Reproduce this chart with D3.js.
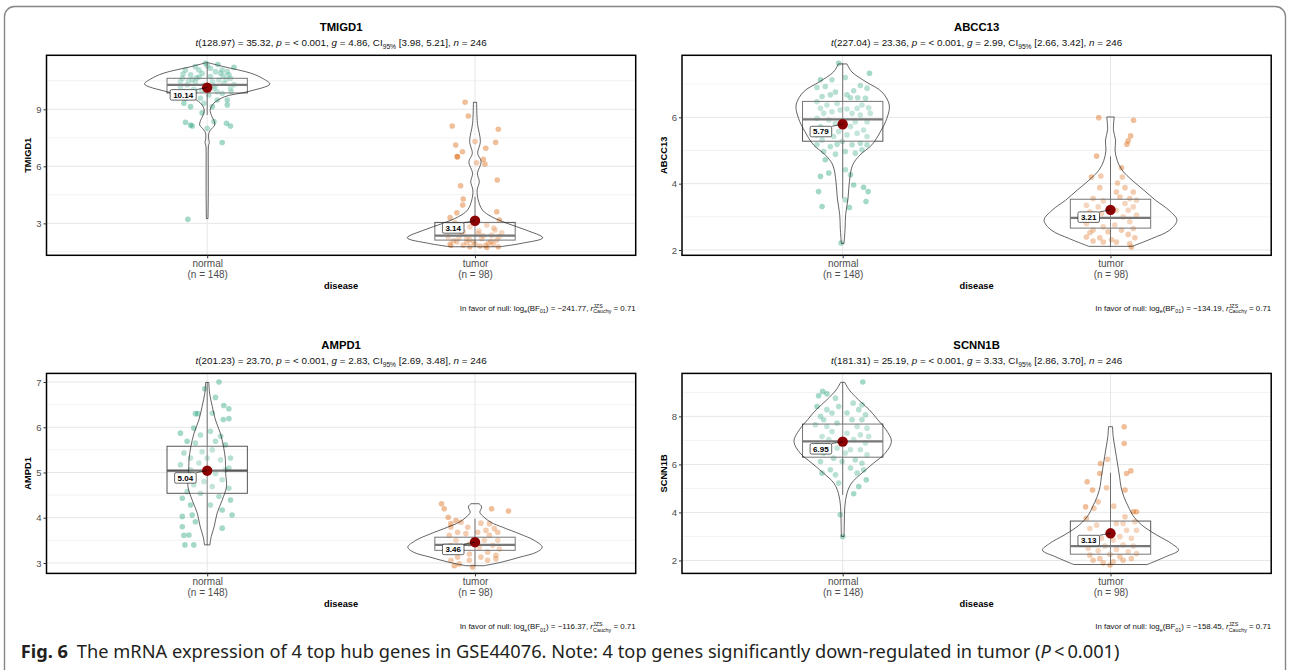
<!DOCTYPE html>
<html>
<head>
<meta charset="utf-8">
<script src="https://cdn.jsdelivr.net/npm/d3@7"></script>
<style>
  body { margin: 0; background: #fff; }
  svg { display: block; }
</style>
</head>
<body>
<div id="chart"></div>
<script>
// ---- data ----
const genes = ["TMIGD1", "ABCC13", "AMPD1", "SCNN1B"];
const groups = ["normal", "tumor"];
const groupN = [148, 98];
const groupColors = ["#1B9E77", "#D95F02"];
const nTotal = 246;

const tDf = [128.97, 227.04, 201.23, 181.31];
const tValue = [35.32, 23.36, 23.70, 25.19];
const hedgesG = [4.86, 2.99, 2.83, 3.33];
const ciLow = [3.98, 2.66, 2.69, 2.86];
const ciHigh = [5.21, 3.42, 3.48, 3.70];
const logBF01 = [-241.77, -134.19, -116.37, -158.45];
const rCauchy = 0.71;

const yDomains = [[1.32, 11.84], [1.84, 7.87], [2.77, 7.19], [1.46, 9.79]];
const yTicks = [[3, 6, 9], [2, 4, 6], [3, 4, 5, 6, 7], [2, 4, 6, 8]];

const groupMeans = [[10.14, 3.14], [5.79, 3.21], [5.04, 3.46], [6.95, 3.13]];

// [lower whisker, q1, median, q3, upper whisker] for normal, tumor
const tmigd1Box = [[8.7, 9.86, 10.28, 10.63, 11.42], [1.77, 2.12, 2.35, 3.05, 4.4]];
const abcc13Box = [[3.56, 5.28, 5.94, 6.48, 7.62], [2.11, 2.66, 2.97, 3.53, 4.82]];
const ampd1Box = [[3.4, 4.54, 5.04, 5.58, 6.98], [2.94, 3.28, 3.40, 3.57, 3.98]];
const scnn1bBox = [[4.73, 6.30, 6.96, 7.68, 9.42], [1.83, 2.26, 2.60, 3.64, 5.65]];

// violin outlines: [value, half width in category units]
const tmigd1NormalViolin = [[3.25, 0.003], [4.5, 0.004], [6.0, 0.004], [6.8, 0.004], [7.1, 0.005], [7.25, 0.008], [7.4, 0.006], [7.6, 0.005], [7.82, 0.008], [8.0, 0.018], [8.17, 0.028], [8.4, 0.025], [8.61, 0.018], [8.96, 0.011], [9.31, 0.024], [9.66, 0.065], [9.93, 0.152], [10.33, 0.234], [10.6, 0.21], [10.89, 0.165], [11.24, 0.062], [11.45, 0.004]];
const tmigd1TumorViolin = [[1.77, 0.093], [1.95, 0.174], [2.24, 0.253], [2.65, 0.19], [3.0, 0.12], [3.35, 0.062], [3.7, 0.028], [4.23, 0.012], [4.75, 0.008], [5.19, 0.016], [5.63, 0.009], [6.24, 0.023], [6.68, 0.01], [7.3, 0.02], [8.26, 0.009], [9.37, 0.006]];
const abcc13NormalViolin = [[2.2, 0.005], [2.66, 0.009], [3.06, 0.011], [3.56, 0.02], [4.06, 0.025], [4.56, 0.037], [4.86, 0.064], [5.17, 0.109], [5.57, 0.141], [5.97, 0.165], [6.37, 0.174], [6.77, 0.146], [7.07, 0.087], [7.37, 0.034], [7.61, 0.016]];
const abcc13TumorViolin = [[2.11, 0.081], [2.34, 0.153], [2.6, 0.221], [2.9, 0.248], [3.2, 0.218], [3.5, 0.168], [3.8, 0.125], [4.1, 0.081], [4.4, 0.044], [4.7, 0.025], [5.01, 0.017], [5.31, 0.019], [5.61, 0.011], [6.01, 0.014]];
const ampd1NormalViolin = [[3.4, 0.01], [3.58, 0.015], [3.8, 0.026], [4.1, 0.037], [4.39, 0.056], [4.69, 0.072], [4.98, 0.069], [5.28, 0.068], [5.57, 0.061], [5.87, 0.049], [6.16, 0.031], [6.46, 0.019], [6.75, 0.009], [6.99, 0.006]];
const ampd1TumorViolin = [[2.94, 0.034], [3.02, 0.1], [3.13, 0.168], [3.24, 0.23], [3.35, 0.251], [3.5, 0.221], [3.64, 0.168], [3.79, 0.103], [3.9, 0.059], [4.01, 0.034], [4.12, 0.018], [4.24, 0.025], [4.31, 0.015]];
const scnn1bNormalViolin = [[3.0, 0.005], [3.55, 0.006], [4.25, 0.008], [4.8, 0.016], [5.22, 0.033], [5.64, 0.072], [6.05, 0.115], [6.47, 0.159], [6.96, 0.182], [7.44, 0.162], [7.86, 0.131], [8.28, 0.099], [8.69, 0.059], [9.11, 0.024], [9.42, 0.0075]];
const scnn1bTumorViolin = [[1.83, 0.137], [2.15, 0.205], [2.43, 0.254], [2.71, 0.227], [3.05, 0.174], [3.4, 0.125], [3.82, 0.087], [4.23, 0.067], [4.65, 0.05], [5.07, 0.039], [5.48, 0.034], [5.9, 0.028], [6.32, 0.022], [6.73, 0.016], [7.15, 0.01], [7.57, 0.0075]];

// jittered observations: [jitter in category units, value]
const tmigd1Normal = [[-0.006, 11.42], [0.1, 11.21], [0.075, 10.98], [-0.044, 11.24], [-0.081, 11.07], [0.031, 10.98], [0.056, 11.07], [-0.019, 10.89], [-0.062, 10.81], [0.012, 10.72], [0.087, 10.63], [-0.093, 10.63], [0.044, 10.54], [-0.044, 10.46], [0.062, 10.37], [-0.075, 10.28], [-0.012, 10.28], [0.025, 10.10], [0.087, 10.10], [-0.087, 9.93], [-0.044, 9.93], [0.056, 9.84], [0.006, 9.75], [-0.081, 9.58], [-0.025, 9.58], [0.037, 9.49], [0.075, 9.23], [-0.087, 9.32], [-0.019, 8.82], [-0.081, 8.31], [-0.056, 8.12], [-0.062, 8.17], [0.025, 8.35], [0.072, 8.26], [0.087, 8.12], [0, 8.0], [0.056, 7.25], [-0.072, 3.21], [-0.031, 11.07], [0.012, 11.16], [-0.056, 10.54], [0.081, 10.81], [-0.1, 10.19], [0.037, 9.93], [-0.012, 9.32], [0.019, 9.14], [0.075, 9.49], [-0.062, 9.14], [0.05, 10.9], [-0.03, 10.7], [0.02, 10.45], [0.07, 10.55], [-0.07, 10.5], [0.1, 10.3], [-0.1, 10.45], [0.03, 10.2], [-0.05, 10.05], [0.09, 9.95], [-0.02, 10.0], [0.06, 10.75], [-0.09, 10.85], [0.0, 11.3], [0.04, 11.35], [-0.04, 10.65]];
const tmigd1Tumor = [[-0.037, 9.37], [-0.025, 8.65], [-0.085, 8.12], [0.087, 7.95], [-0.072, 7.12], [0.077, 7.26], [-0.047, 6.77], [-0.066, 6.51], [-0.066, 6.51], [0.04, 6.95], [0, 7.3], [0.031, 6.37], [0.037, 6.12], [0.006, 6.19], [0.083, 5.28], [-0.054, 4.98], [-0.044, 4.28], [-0.046, 3.96], [-0.068, 3.56], [-0.093, 3.30], [0.081, 3.61], [0.091, 3.17], [-0.075, 3.03], [-0.019, 2.82], [0.044, 2.91], [0.075, 2.65], [-0.087, 2.65], [-0.044, 2.56], [0.012, 2.47], [0.062, 2.38], [-0.1, 2.30], [-0.031, 2.21], [0.025, 2.21], [0.081, 2.12], [-0.068, 2.03], [-0.006, 2.03], [0.05, 1.95], [-0.093, 1.91], [-0.044, 1.86], [0.019, 1.81], [0.068, 1.91], [-0.019, 1.77], [0.087, 1.77], [0.044, 1.73], [-0.08, 2.1], [0.03, 2.35], [-0.05, 2.45], [0.09, 2.3], [0.0, 1.9], [-0.03, 2.0], [0.06, 2.05], [-0.09, 1.85], [0.1, 2.5], [-0.06, 2.25], [0.015, 2.6], [0.07, 2.75], [-0.02, 2.15], [0.04, 1.85]];
const abcc13Normal = [[-0.015, 7.63], [0.1, 7.33], [0.01, 7.2], [-0.04, 7.13], [-0.083, 7.13], [0.091, 6.88], [0.066, 6.96], [-0.065, 6.93], [-0.096, 6.9], [0.041, 6.8], [-0.027, 6.76], [0.016, 6.68], [-0.077, 6.63], [-0.046, 6.68], [0.056, 6.59], [0.085, 6.57], [0.029, 6.59], [-0.096, 6.47], [-0.059, 6.37], [-0.021, 6.42], [0.072, 6.37], [0.097, 6.29], [-0.083, 6.27], [0.016, 6.25], [0.054, 6.27], [-0.009, 6.22], [-0.04, 6.17], [0.035, 6.12], [-0.071, 6.12], [0.103, 6.12], [0.066, 6.07], [0.091, 5.87], [-0.052, 5.92], [-0.096, 5.97], [0.047, 5.87], [-0.027, 5.82], [-0.083, 5.72], [0.029, 5.72], [0.078, 5.62], [-0.015, 5.57], [-0.059, 5.57], [0.054, 5.52], [0.016, 5.47], [-0.096, 5.47], [-0.034, 5.42], [0.091, 5.42], [-0.077, 5.32], [-0.002, 5.27], [0.066, 5.22], [0.035, 5.17], [-0.096, 5.17], [-0.046, 5.12], [-0.021, 5.19], [0.091, 5.17], [-0.071, 4.97], [0.072, 5.02], [0.01, 4.97], [0.047, 4.92], [-0.027, 4.89], [-0.065, 4.72], [-0.083, 4.22], [-0.052, 4.32], [0.01, 4.42], [0.029, 4.27], [0.041, 3.96], [0.078, 3.89], [0.095, 3.76], [-0.09, 3.76], [0.01, 3.51], [0.087, 3.46], [-0.077, 3.31], [0.025, 3.28], [-0.006, 2.21]];
const abcc13Tumor = [[-0.044, 5.99], [0.086, 5.91], [0.075, 5.44], [0.066, 5.29], [0.061, 5.19], [-0.052, 4.83], [0.041, 4.48], [-0.071, 4.2], [-0.036, 4.23], [0.044, 4.2], [-0.04, 3.88], [0.026, 4.02], [0.054, 3.88], [0.022, 3.75], [0.085, 3.75], [-0.065, 3.55], [-0.027, 3.48], [0.035, 3.6], [0.072, 3.55], [0.097, 3.5], [0.054, 3.4], [-0.09, 3.35], [-0.046, 3.3], [0.085, 3.3], [0.022, 3.2], [0.066, 3.2], [-0.077, 3.15], [-0.034, 3.1], [0.097, 3.05], [0.047, 3.0], [-0.052, 2.9], [0.072, 2.85], [-0.09, 2.8], [0.016, 2.75], [-0.027, 2.7], [0.085, 2.65], [-0.065, 2.6], [0.041, 2.6], [-0.077, 2.52], [-0.009, 2.55], [0.066, 2.47], [-0.09, 2.39], [-0.04, 2.37], [0.091, 2.37], [0.004, 2.31], [-0.065, 2.27], [0.022, 2.24], [0.072, 2.19], [-0.027, 2.24], [0.078, 2.09]];
const ampd1Normal = [[0.044, 7.0], [-0.009, 6.85], [0.031, 6.66], [0.062, 6.48], [0.081, 6.41], [-0.044, 6.3], [-0.035, 6.3], [0.019, 6.31], [0.081, 6.19], [0.06, 6.17], [-0.1, 5.87], [-0.05, 5.98], [-0.025, 5.83], [0.012, 5.91], [0.05, 5.8], [-0.075, 5.69], [-0.044, 5.65], [0.031, 5.69], [0.068, 5.61], [-0.087, 5.43], [-0.019, 5.46], [0.019, 5.5], [0.087, 5.32], [-0.062, 5.32], [0.05, 5.28], [-0.1, 5.17], [-0.031, 5.21], [0.068, 5.06], [-0.062, 5.06], [0.031, 4.98], [-0.081, 4.84], [-0.012, 4.8], [0.056, 4.84], [-0.05, 4.73], [0.019, 4.69], [0.081, 4.65], [-0.093, 4.43], [-0.025, 4.54], [0.044, 4.47], [-0.062, 4.28], [0.012, 4.28], [0.056, 4.17], [-0.056, 4.06], [0.093, 4.06], [-0.093, 4.03], [-0.044, 3.91], [-0.093, 3.8], [0.056, 3.77], [-0.068, 3.62], [-0.087, 3.61], [-0.05, 3.4], [-0.083, 3.4], [0.087, 4.39], [0, 5.32], [-0.075, 4.58], [0.081, 5.1]];
const ampd1Tumor = [[-0.125, 4.31], [-0.115, 4.2], [0.125, 4.15], [0.062, 4.2], [-0.1, 4.01], [-0.071, 3.94], [-0.052, 3.9], [-0.09, 3.87], [0.022, 3.88], [0.054, 3.87], [-0.09, 3.79], [-0.027, 3.79], [0.072, 3.76], [0.041, 3.72], [-0.065, 3.68], [0.01, 3.68], [0.085, 3.68], [-0.096, 3.61], [-0.034, 3.65], [0.054, 3.61], [0.035, 3.5], [-0.071, 3.5], [0.085, 3.5], [-0.021, 3.42], [-0.09, 3.39], [0.066, 3.39], [0.016, 3.35], [-0.052, 3.31], [0.091, 3.31], [0.047, 3.24], [-0.09, 3.24], [-0.021, 3.2], [0.078, 3.17], [-0.065, 3.13], [0.022, 3.13], [0.047, 3.06], [-0.09, 3.06], [-0.021, 3.06], [-0.059, 2.98], [-0.077, 2.94], [-0.009, 2.91], [0.078, 3.09]];
const scnn1bNormal = [[0.075, 9.43], [-0.075, 9.04], [-0.09, 8.86], [-0.059, 8.94], [-0.027, 8.76], [0.039, 8.55], [0.072, 8.48], [-0.096, 8.41], [-0.059, 8.28], [-0.015, 8.41], [0.06, 8.28], [-0.083, 8.0], [-0.04, 8.14], [0.016, 8.14], [0.085, 8.07], [-0.071, 7.86], [0.035, 7.86], [0.072, 7.86], [-0.021, 7.72], [-0.102, 7.65], [-0.059, 7.58], [0.054, 7.58], [0.091, 7.51], [-0.077, 7.16], [-0.04, 7.37], [0.016, 7.3], [0.066, 7.23], [0.097, 7.16], [-0.052, 7.03], [0.041, 7.03], [0.085, 6.89], [-0.096, 6.82], [-0.021, 6.68], [0.029, 6.61], [0.066, 6.61], [-0.071, 6.47], [0.01, 6.47], [0.091, 6.4], [-0.034, 6.26], [0.047, 6.19], [-0.083, 6.12], [-0.002, 6.12], [0.072, 6.05], [-0.046, 5.78], [0.029, 5.85], [-0.077, 5.64], [-0.027, 5.57], [0.078, 5.78], [0.054, 5.64], [-0.015, 5.22], [0.088, 5.36], [0.06, 5.08], [0.041, 4.78], [-0.009, 3.9], [0, 3.0]];
const scnn1bTumor = [[0.051, 7.57], [0.051, 6.87], [-0.037, 6.04], [-0.011, 6.21], [-0.04, 5.62], [0.06, 5.62], [0.076, 5.73], [-0.087, 5.28], [-0.067, 4.93], [-0.015, 5.03], [0.054, 4.93], [-0.046, 4.44], [-0.093, 4.23], [0.012, 4.26], [-0.062, 4.17], [0.085, 4.03], [0.097, 4.03], [0.054, 3.82], [-0.09, 3.75], [0.091, 3.61], [0.047, 3.54], [-0.052, 3.47], [0.022, 3.54], [0.097, 3.26], [0.06, 3.26], [-0.077, 3.33], [0.035, 2.99], [-0.034, 2.92], [0.078, 2.92], [-0.09, 2.85], [0.01, 2.85], [-0.065, 2.71], [0.047, 2.64], [0.085, 2.6], [-0.021, 2.6], [-0.083, 2.5], [0.022, 2.46], [-0.046, 2.4], [0.066, 2.36], [0.097, 2.29], [-0.077, 2.22], [-0.002, 2.26], [0.035, 2.15], [-0.04, 2.08], [0.078, 2.08], [-0.065, 2.01], [0.01, 1.94], [0.047, 2.01], [-0.027, 1.9], [-0.002, 1.81]];

const boxStats = [tmigd1Box, abcc13Box, ampd1Box, scnn1bBox];
const violins = [[tmigd1NormalViolin, tmigd1TumorViolin], [abcc13NormalViolin, abcc13TumorViolin],
                 [ampd1NormalViolin, ampd1TumorViolin], [scnn1bNormalViolin, scnn1bTumorViolin]];
const observations = [[tmigd1Normal, tmigd1Tumor], [abcc13Normal, abcc13Tumor],
                      [ampd1Normal, ampd1Tumor], [scnn1bNormal, scnn1bTumor]];

// ---- layout ----
const W = 1290, H = 670;
const plotW = 589.2, plotH = 200;
const panelPos = [[46.5, 55.3], [682, 55.3], [46.5, 373.4], [682, 373.4]];
const FONT = "'Liberation Sans', Arial, Helvetica, sans-serif";

const svg = d3.select("#chart").append("svg")
    .attr("width", W)
    .attr("height", H)
    .attr("font-family", FONT);

svg.append("rect").attr("width", W).attr("height", H).attr("fill", "#fff");

// rounded figure frame
svg.append("rect")
    .attr("x", 4.5).attr("y", 6.5)
    .attr("width", 1281).attr("height", 720)
    .attr("rx", 10)
    .attr("fill", "none")
    .attr("stroke", "#858585")
    .attr("stroke-width", 1.4);

// squeeze/stretch a text horizontally so it spans the target width
function fitWidth(sel, target, anchorX) {
    const w = sel.node().getBBox().width;
    if (!w) return;
    const k = target / w;
    sel.attr("transform", `translate(${anchorX},0) scale(${k},1) translate(${-anchorX},0)`);
}

// text made of parts with italic / sub / sup runs
function richText(text, parts, size) {
    let shift = 0, prev = null;
    parts.forEach(p => {
        const ts = text.append("tspan").text(p.t);
        const target = p.sub ? size * 0.32 : p.sup ? -size * 0.38 : 0;
        if (target !== shift) ts.attr("dy", target - shift);
        shift = target;
        if (p.sub || p.sup) ts.attr("font-size", size * 0.68);
        if (p.i) ts.attr("font-style", "italic");
        if (p.b) ts.attr("font-weight", "bold");
        if (p.back && prev) ts.attr("dx", -prev.node().getComputedTextLength());
        if (p.dx) ts.attr("dx", p.dx);
        prev = ts;
    });
}

const fmt2 = d3.format(".2f");
const minus = v => (v < 0 ? "\u2212" : "") + fmt2(Math.abs(v));

function drawPanel(k) {
    const [left, top] = panelPos[k];
    const x = d3.scaleLinear().domain([0.4, 2.6]).range([0, plotW]);
    const y = d3.scaleLinear().domain(yDomains[k]).range([plotH, 0]);
    const g = svg.append("g").attr("transform", `translate(${left},${top})`);

    // grid
    const ticks = yTicks[k];
    const step = ticks[1] - ticks[0];
    const minor = [];
    for (let t = ticks[0] - step / 2; t <= ticks[ticks.length - 1] + step; t += step) minor.push(t);
    const [d0, d1] = yDomains[k];
    g.append("g").selectAll("line")
        .data(minor.filter(t => t > d0 && t < d1))
        .join("line")
        .attr("x1", 0).attr("x2", plotW)
        .attr("y1", d => y(d)).attr("y2", d => y(d))
        .attr("stroke", "#EFEFEF").attr("stroke-width", 0.8);
    g.append("g").selectAll("line")
        .data(ticks)
        .join("line")
        .attr("x1", 0).attr("x2", plotW)
        .attr("y1", d => y(d)).attr("y2", d => y(d))
        .attr("stroke", "#E6E6E6").attr("stroke-width", 1);
    g.append("g").selectAll("line")
        .data([1, 2])
        .join("line")
        .attr("x1", d => x(d)).attr("x2", d => x(d))
        .attr("y1", 0).attr("y2", plotH)
        .attr("stroke", "#E6E6E6").attr("stroke-width", 1);

    groups.forEach((grp, gi) => {
        const cx = gi + 1;
        const color = groupColors[gi];

        // jittered points
        g.append("g").selectAll("circle")
            .data(observations[k][gi])
            .join("circle")
            .attr("cx", d => x(cx + d[0]))
            .attr("cy", d => y(d[1]))
            .attr("r", 2.8)
            .attr("fill", color)
            .attr("fill-opacity", 0.4);

        // box plot
        const [lo, q1, med, q3, hi] = boxStats[k][gi];
        g.append("line")
            .attr("x1", x(cx)).attr("x2", x(cx))
            .attr("y1", y(lo)).attr("y2", y(hi))
            .attr("stroke", "#3a3a3a").attr("stroke-width", 0.9);
        g.append("rect")
            .attr("x", x(cx - 0.15)).attr("width", x(cx + 0.15) - x(cx - 0.15))
            .attr("y", y(q3)).attr("height", y(q1) - y(q3))
            .attr("fill", "#fff").attr("fill-opacity", 0.2)
            .attr("stroke", "#555").attr("stroke-width", 1);
        g.append("line")
            .attr("x1", x(cx - 0.15)).attr("x2", x(cx + 0.15))
            .attr("y1", y(med)).attr("y2", y(med))
            .attr("stroke", "#555").attr("stroke-width", 2.2);

        // violin
        const area = d3.area()
            .y(d => y(d[0]))
            .x0(d => x(cx - d[1]))
            .x1(d => x(cx + d[1]))
            .curve(d3.curveCatmullRom.alpha(0.5));
        g.append("path")
            .datum(violins[k][gi])
            .attr("d", area)
            .attr("fill", "#fff").attr("fill-opacity", 0.2)
            .attr("stroke", "#222").attr("stroke-width", 0.7);

        // mean point with its label
        const mv = groupMeans[k][gi];
        const mx = x(cx), my = y(mv);
        const lab = g.append("g");
        const txt = lab.append("text")
            .attr("font-size", 8)
            .attr("font-weight", "bold")
            .attr("text-anchor", "end")
            .text(fmt2(mv));
        const tw = txt.node().getComputedTextLength();
        const bw = tw + 6, bh = 10.5;
        const bx = mx - 11 - bw, by = my + 2;
        lab.insert("line", "text")
            .attr("x1", bx + bw).attr("y1", by)
            .attr("x2", mx).attr("y2", my)
            .attr("stroke", "#000").attr("stroke-width", 0.6);
        lab.insert("rect", "text")
            .attr("x", bx).attr("y", by)
            .attr("width", bw).attr("height", bh)
            .attr("rx", 1.5)
            .attr("fill", "#fff")
            .attr("stroke", "#000").attr("stroke-width", 0.6);
        txt.attr("x", bx + bw - 3).attr("y", by + bh / 2 + 2.9);
        g.insert("circle", () => lab.node())
            .attr("cx", mx).attr("cy", my)
            .attr("r", 5.2)
            .attr("fill", "#8B0000");
    });

    // panel border
    g.append("rect")
        .attr("width", plotW).attr("height", plotH)
        .attr("fill", "none")
        .attr("stroke", "#000").attr("stroke-width", 1.5);

    // axes
    g.append("g")
        .call(d3.axisLeft(y).tickValues(ticks).tickSize(3).tickPadding(2).tickFormat(d3.format("d")))
        .call(a => {
            a.attr("font-family", FONT).attr("font-size", 9.5);
            a.select(".domain").remove();
            a.selectAll("line").attr("stroke", "#333");
            a.selectAll("text").attr("fill", "#4D4D4D");
        });
    g.append("g")
        .attr("transform", `translate(0,${plotH})`)
        .call(d3.axisBottom(x).tickValues([1, 2]).tickSize(3).tickPadding(2))
        .call(a => {
            a.attr("font-family", FONT).attr("font-size", 10);
            a.select(".domain").remove();
            a.selectAll("line").attr("stroke", "#333");
            a.selectAll("text")
                .attr("fill", "#4D4D4D")
                .text(null)
                .each(function (d, i) {
                    const t = d3.select(this);
                    t.append("tspan").attr("x", 0).text(groups[i]);
                    t.append("tspan").attr("x", 0).attr("dy", "1.07em").text(`(n = ${groupN[i]})`);
                });
        });

    // axis titles
    g.append("text")
        .attr("transform", `translate(-18.3,${plotH / 2}) rotate(-90)`)
        .attr("text-anchor", "middle")
        .attr("dy", "0.35em")
        .attr("font-size", 9.3)
        .attr("font-weight", "bold")
        .text(genes[k]);
    g.append("text")
        .attr("x", plotW / 2).attr("y", plotH + 33.8)
        .attr("text-anchor", "middle")
        .attr("font-size", 9.3)
        .attr("font-weight", "bold")
        .text("disease");

    // title and statistics
    g.append("text")
        .attr("x", plotW / 2).attr("y", -24)
        .attr("text-anchor", "middle")
        .attr("font-size", 11.3)
        .attr("font-weight", "bold")
        .text(genes[k]);

    const sub = g.append("text")
        .attr("x", plotW / 2).attr("y", -9.3)
        .attr("text-anchor", "middle")
        .attr("font-size", 9.6)
        .attr("fill", "#111");
    richText(sub, [
        { t: "t", i: true },
        { t: `(${fmt2(tDf[k])}) = ${fmt2(tValue[k])}, ` },
        { t: "p", i: true },
        { t: " = < 0.001, " },
        { t: "g", i: true },
        { t: ` = ${fmt2(hedgesG[k])}, CI` },
        { t: "95%", sub: true },
        { t: ` [${fmt2(ciLow[k])}, ${fmt2(ciHigh[k])}], ` },
        { t: "n", i: true },
        { t: ` = ${nTotal}` }
    ], 9.6);
    fitWidth(sub, 291, plotW / 2);

    const bf = g.append("text")
        .attr("x", plotW).attr("y", plotH + 55.8)
        .attr("text-anchor", "end")
        .attr("font-size", 7.4)
        .attr("fill", "#111");
    richText(bf, [
        { t: "In favor of null: log" },
        { t: "e", sub: true },
        { t: "(BF" },
        { t: "01", sub: true },
        { t: `) = ${minus(logBF01[k])}, ` },
        { t: "r", i: true },
        { t: "JZS", sup: true },
        { t: "Cauchy", sub: true, back: true },
        { t: ` = ${fmt2(rCauchy)}` }
    ], 7.4);
    fitWidth(bf, 176, plotW);
}

genes.forEach((gene, k) => drawPanel(k));

// figure caption
const cap = svg.append("text")
    .attr("x", 20.7).attr("y", 658.3)
    .attr("font-family", "'Noto Sans', 'Open Sans', sans-serif")
    .attr("font-size", 18.5)
    .attr("fill", "#231F20");
richText(cap, [
    { t: "Fig. 6", b: true },
    { t: "The mRNA expression of 4 top hub genes in GSE44076. Note: 4 top genes significantly down-regulated in tumor (", dx: 9 },
    { t: "P", i: true },
    { t: "\u2009<\u20090.001)" }
], 18.5);
fitWidth(cap, 1100, 20.7);
</script>
</body>
</html>
